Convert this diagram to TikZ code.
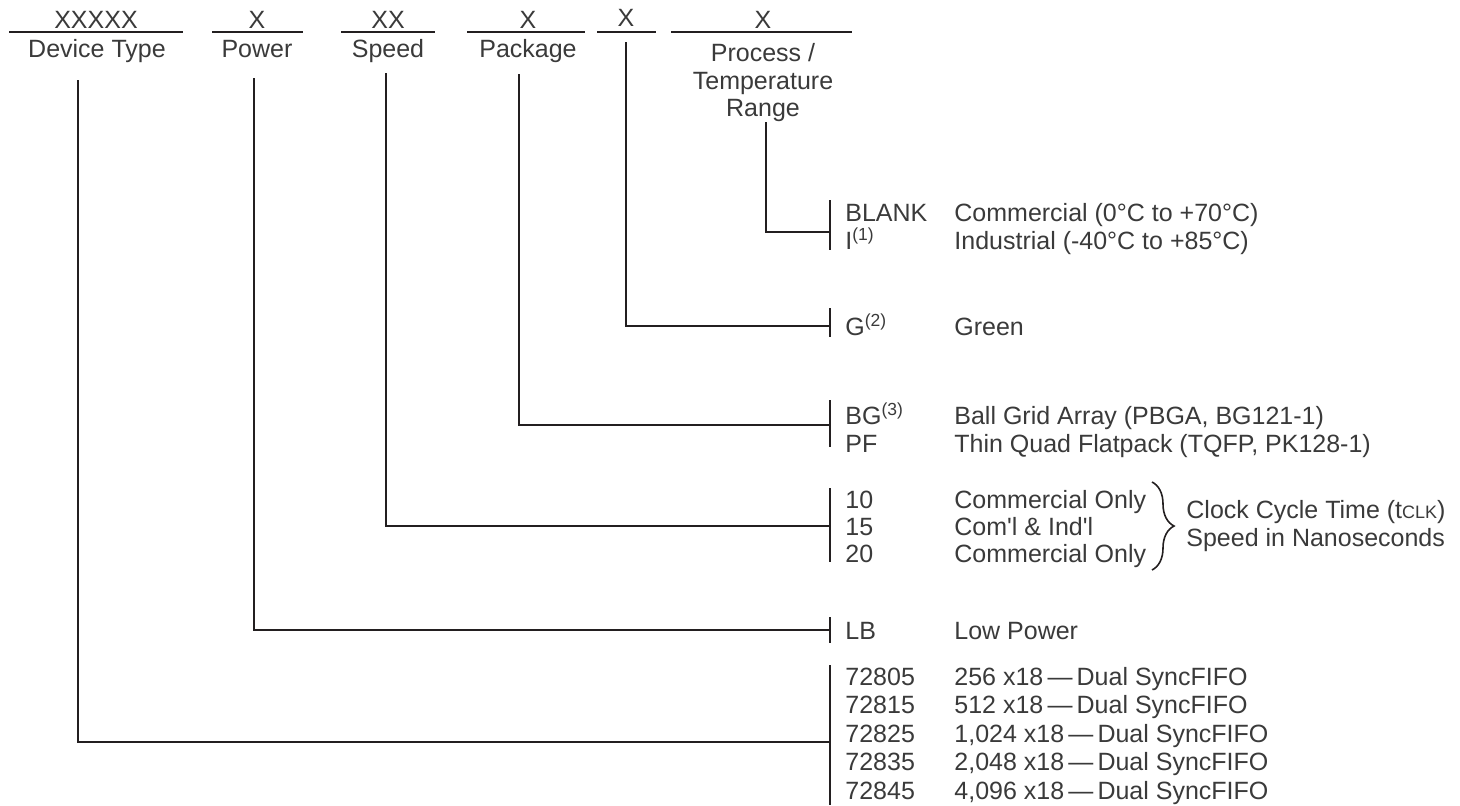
\documentclass[tikz,border=0pt]{standalone}
\usepackage{fontspec}
\setmainfont{Liberation Sans}
\usepackage{xcolor}
\definecolor{inkgray}{RGB}{35,31,32}
\definecolor{txtgray}{RGB}{58,58,58}
\usepackage{tikz}
\usetikzlibrary{positioning,calc,decorations.pathreplacing}

\begin{document}
\begin{tikzpicture}[x=0.5pt,y=-0.5pt,
  wire/.style={draw=inkgray,line width=1pt},
  txt/.style={inner sep=0pt,text=txtgray,font=\fontsize{12.5}{13.75}\selectfont},
  field/.style={txt,anchor=base},
  code/.style={txt,anchor=base west},
  desc/.style={txt,anchor=base west}]
  \useasboundingbox (0,0) rectangle (1460,805);

  % ordering code fields
  \foreach \nm/\xa/\xb/\xm/\yb/\ltr in {dev/9/183/96/28/XXXXX,pow/212/303/257/28/X,
      spd/341/435/388/28/XX,pkg/467/585/528/28/X,grn/597/656/626/26/X,tmp/671/852/763/28/X}{
    \draw[wire] (\xa,32) -- (\xb,32);
    \node[field] (f\nm) at (\xm,\yb) {\ltr};
  }
  \node[field] (hdev) at (97,57) {Device Type};
  \node[field] (hpow) at (257,57) {Power};
  \node[field] (hspd) at (388,57) {Speed};
  \node[field] (hpkg) at (528,57) {Package};
  \node[txt,anchor=north,align=center] (htmp) at (763,43) {Process /\\Temperature\\Range};

  % connector start points and junctions on the ticks
  \coordinate (cdev) at (78,80);   \coordinate (jdev) at (830,742);
  \coordinate (cpow) at (254,78);  \coordinate (jpow) at (830,630);
  \coordinate (cspd) at (386,73);  \coordinate (jspd) at (830,526);
  \coordinate (cpkg) at (519,74);  \coordinate (jpkg) at (830,425);
  \coordinate (cgrn) at (626,42);  \coordinate (jgrn) at (830,326);
  \coordinate (ctmp) at (766,122); \coordinate (jtmp) at (830,232);

  % ticks
  \foreach \ya/\yb in {200/250,308/337,400/447,488/562,617/643,665/805}
    \draw[wire] (830,\ya) -- (830,\yb);

  \draw[wire] (ctmp) |- (jtmp);
  \draw[wire] (cgrn) |- (jgrn);
  \draw[wire] (cpkg) |- (jpkg);
  \draw[wire] (cspd) |- (jspd);
  \draw[wire] (cpow) |- (jpow);
  \draw[wire] (cdev) |- (jdev);

  % temperature range
  \node[code] (blank) at (845,221) {BLANK};
  \node[code] (ind) at (845,249) {I\textsuperscript{(1)}};
  \node[desc] (blankd) at (954,221) {Commercial (0°C to +70°C)};
  \node[desc] (indd) at (954,249) {Industrial (-40°C to +85°C)};

  % green
  \node[code] (green) at (845,335) {G\textsuperscript{(2)}};
  \node[desc] (greend) at (954,335) {Green};

  % package
  \node[code] (bg) at (845,424) {BG\textsuperscript{(3)}};
  \node[code] (pf) at (845,452) {PF};
  \node[desc] (bgd) at (954,424) {Ball Grid Array (PBGA, BG121-1)};
  \node[desc] (pfd) at (954,452) {Thin Quad Flatpack (TQFP, PK128-1)};

  % speed
  \foreach \c/\d/\yy in {10/Commercial Only/508,
      15/Com\textquotesingle l \& Ind\textquotesingle l/535,20/Commercial Only/562}{
    \node[code] (s\c) at (845,\yy) {\c};
    \node[desc] (s\c d) at (954,\yy) {\d};
  }
  \draw[draw=inkgray,line width=0.8pt,decorate,decoration={brace,amplitude=11pt}]
    (1152,482) -- (1152,570) coordinate[midway,xshift=12.5pt] (brtip);
  \node[txt,anchor=west,align=left] (clk) at ($(brtip)+(9,0)$)
    {Clock Cycle Time (t{\fontsize{9}{10}\selectfont CLK})\\Speed in Nanoseconds};

  % power
  \node[code] (lb) at (845,639) {LB};
  \node[desc] (lbd) at (954,639) {Low Power};

  % device type
  \foreach \c/\d [count=\i from 0] in {72805/256 x18,72815/512 x18,72825/{1,024 x18},
      72835/{2,048 x18},72845/{4,096 x18}}{
    \node[code] (d\c) at (845,685+28.5*\i) {\c};
    \node[desc] (d\c d) at (954,685+28.5*\i) {\d\,—\,Dual SyncFIFO};
  }
\end{tikzpicture}
\end{document}
